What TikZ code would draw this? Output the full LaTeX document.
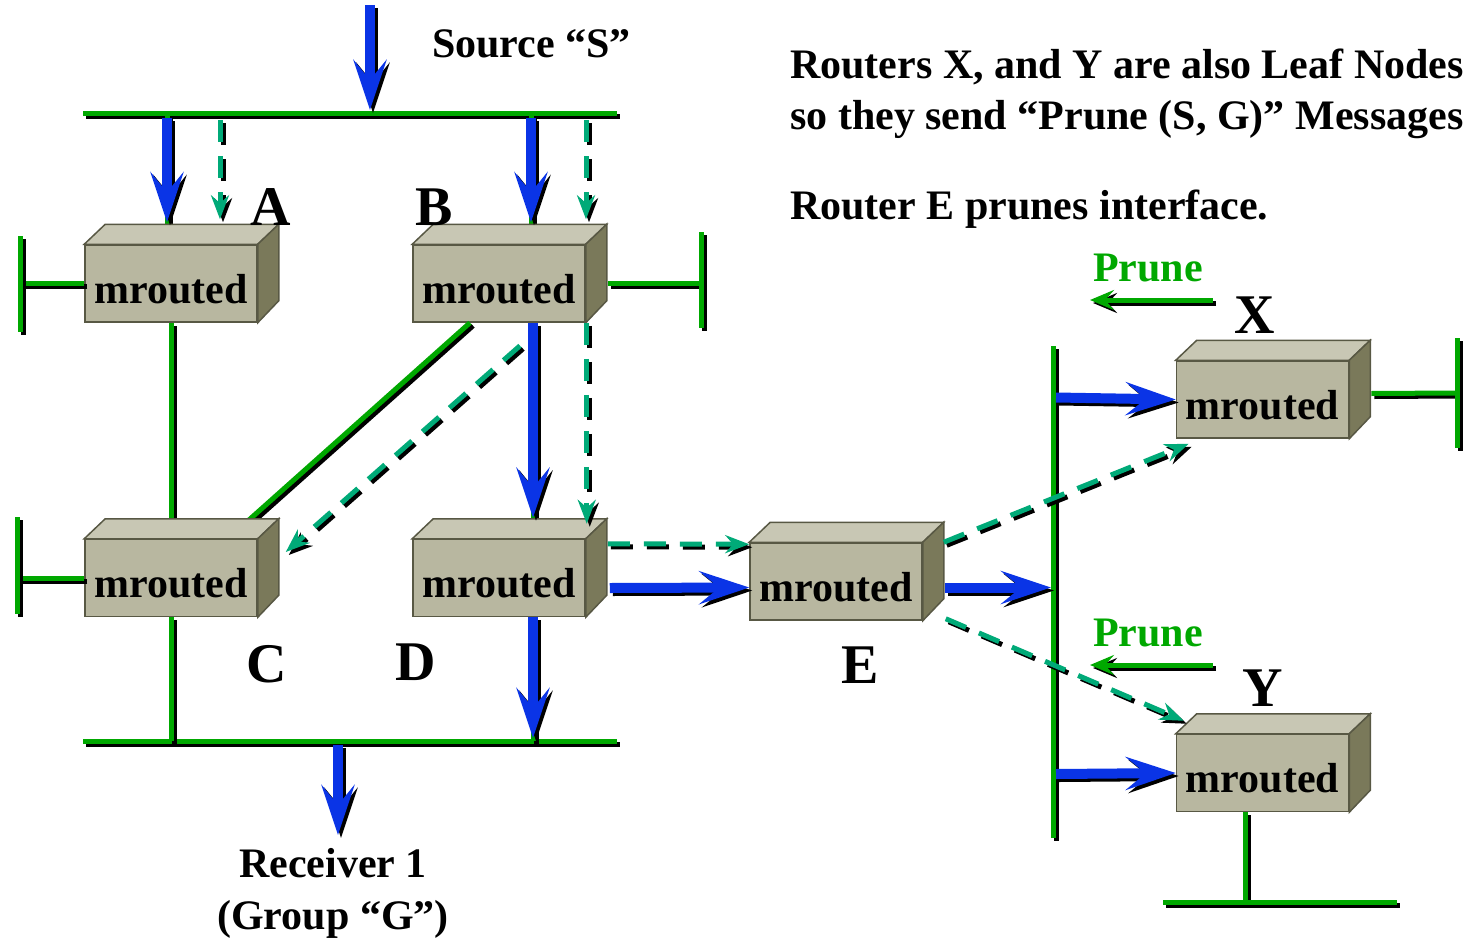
\documentclass[tikz,border=0pt]{standalone}
\usepackage{fontspec}
\setmainfont{Liberation Serif}
\usetikzlibrary{arrows.meta,calc}
\definecolor{wiregreen}{RGB}{0,168,0}
\definecolor{flowblue}{RGB}{10,52,230}
\definecolor{dashteal}{RGB}{0,170,120}
\definecolor{boxfront}{RGB}{184,183,160}
\definecolor{boxtop}{RGB}{200,199,180}
\definecolor{boxside}{RGB}{122,121,90}
\definecolor{boxedge}{RGB}{88,88,68}

\begin{document}
\begin{tikzpicture}[x=1pt,y=-1pt]
\tikzset{
  shadowed/.style = {preaction={draw=black, line width=#1, transform canvas={shift={(3pt,-3pt)}}}},
  wire/.style = {shadowed=5pt, draw=wiregreen, line width=5pt},
  flow/.style = {shadowed=10pt, draw=flowblue, line width=10pt,
                 -{Stealth[length=50pt,width=33pt,inset=20pt]}},
  prunepath/.style = {preaction={draw=black, line width=5pt, dash pattern=on 22pt off 14pt,
                 transform canvas={shift={(3pt,-3pt)}}},
                 draw=dashteal, line width=5pt, dash pattern=on 22pt off 14pt,
                 -{Stealth[length=24pt,width=18pt,inset=8pt]}},
  pruneflag/.style = {shadowed=5pt, draw=wiregreen, line width=5pt,
                 -{Stealth[length=24pt,width=20pt,inset=9pt]}},
  mbox/.style = {draw=boxedge, line width=1.5pt, fill=boxfront, minimum width=172pt,
                 minimum height=77pt, inner sep=0pt, text height=39pt, text depth=0pt,
                 font=\fontsize{42}{48}\selectfont\bfseries},
  tag/.style = {inner sep=0pt, font=\fontsize{56}{60}\selectfont\bfseries},
  note/.style = {inner sep=0pt, font=\fontsize{42}{52}\selectfont\bfseries}
}
\useasboundingbox (0,0) rectangle (1474,942);

% routers
\node[mbox] (A) at (171,283.5) {mrouted};
\node[mbox] (B) at (499,283.5) {mrouted};
\node[mbox] (C) at (171,578) {mrouted};
\node[mbox] (D) at (499,578) {mrouted};
\node[mbox] (E) at (836,581.5) {mrouted};
\node[mbox] (X) at (1262.5,399.5) {mrouted};
\node[mbox] (Y) at (1262.5,773) {mrouted};

% LANs
\coordinate (srcIn) at (370,5);
\coordinate (busTw) at (83,113);   \coordinate (busTe) at (617,113);
\coordinate (busBw) at (83,741);   \coordinate (busBe) at (617,741);
\coordinate (busRn) at (1053,346); \coordinate (busRs) at (1053,838);
\coordinate (rcvOut) at (338,835);
\coordinate (endA) at (20,287);  \coordinate (endC) at (17,568);
\coordinate (endB) at (701,282); \coordinate (endX) at (1457,393);
\coordinate (endY) at (1245,902);

\draw[wire] (busTw) -- (busTe);
\draw[wire] (busBw) -- (busBe);
\draw[wire] (busRn) -- (busRs);
\draw[wire] (A.west) -- (endA |- A.west);
\draw[wire] ($(endA)+(0,-51)$) -- ($(endA)+(0,45)$);
\draw[wire] (C.west) -- (endC |- C.west);
\draw[wire] ($(endC)+(0,-51)$) -- ($(endC)+(0,46)$);
\draw[wire] ($(B.east)+(22,0)$) -- (endB |- B.east);
\draw[wire] ($(endB)+(0,-50)$) -- ($(endB)+(0,46)$);
\draw[wire] ($(X.east)+(22,-6)$) -- (endX |- 0,393);
\draw[wire] ($(endX)+(0,-55)$) -- ($(endX)+(0,55)$);
\draw[wire] (Y.south -| endY) -- (endY);
\draw[wire] ($(endY)+(-82,0)$) -- ($(endY)+(152,0)$);
\draw[wire] (A.south) -- ($(C.north)+(0,-5)$);
\draw[wire] (C.south) -- (C.south |- busBw);
\draw[wire] ($(B.south)+(-29,0)$) -- ($(C.north)+(62.5,-5)$);
\draw[wire] ($(A.north)+(-4,-5)$) -- ($(A.north |- busTw)+(-4,0)$);
\draw[wire] ($(B.north)+(32,-5)$) -- ($(B.north |- busTw)+(32,0)$);
\draw[wire] ($(B.south)+(34,0)$) -- ($(D.north)+(34,-5)$);
\draw[wire] ($(D.south)+(34,0)$) -- ($(D.south |- busBw)+(34,0)$);

% 3D faces of the boxes
\foreach \n in {A,B,C,D,E,X,Y}{
  \filldraw[draw=boxedge, line width=1.5pt, fill=boxtop] (\n.north west) -- ++(21,-20)
      -- ($(\n.north east)+(21,-20)$) -- (\n.north east) -- cycle;
  \filldraw[draw=boxedge, line width=1.5pt, fill=boxside] (\n.north east) -- ++(21,-20)
      -- ($(\n.south east)+(21,-22)$) -- (\n.south east) -- cycle;
}

% data flow (S,G)
\draw[flow] (srcIn) -- (srcIn |- 0,110);
\draw[flow] ($(A.north |- busTw)+(-4,5)$) -- ($(A.north)+(-4,-22)$);
\draw[flow] ($(B.north |- busTw)+(32,5)$) -- ($(B.north)+(32,-22)$);
\draw[flow] ($(B.south)+(34,0)$) -- ($(D.north)+(34,-21)$);
\draw[flow] ($(D.south)+(34,0)$) -- ($(D.south |- busBw)+(34,-3)$);
\draw[flow] ($(rcvOut |- busBw)+(0,4)$) -- (rcvOut);
\draw[flow] ($(D.east)+(24,10)$) -- ($(E.west)+(0,6)$);
\draw[flow] ($(E.east)+(22,6)$) -- ($(busRn |- E.east)+(-2,6)$);
\draw[flow] ($(busRn |- X.west)+(3,-2)$) -- (X.west);
\draw[flow] ($(busRn |- Y.west)+(3,1)$) -- (Y.west);

% prune / control path
\draw[prunepath] ($(A.north |- busTw)+(49,7)$) -- ($(A.north)+(49,-25)$);
\draw[prunepath] ($(B.north |- busTw)+(87,7)$) -- ($(B.north)+(87,-25)$);
\draw[prunepath] ($(B.south)+(21,23)$) -- ($(C.east)+(28,-26)$);
\draw[prunepath] ($(B.south east)+(1,0)$) -- ($(D.north east)+(1,-15)$);
\draw[prunepath] ($(D.north east)+(22,5)$) -- ($(E.north west)+(0,2)$);
\draw[prunepath] ($(E.north east)+(21,0)$) -- ($(X.south west)+(13,5)$);
\draw[prunepath] ($(E.south east)+(23,-2)$) -- ($(Y.north west)+(8,-13)$);
\draw[pruneflag] (1213,300) coordinate (pfX) -- (1090,300);
\draw[pruneflag] (1213,665) coordinate (pfY) -- (1090,665);

% labels
\node[tag] (labA) at (271,207) {A};
\node[tag] (labB) at (434,207) {B};
\node[tag] (labC) at (267,664) {C};
\node[tag] (labD) at (416,662) {D};
\node[tag] (labE) at (860,665) {E};
\node[tag] (labX) at (1255,315) {X};
\node[tag] (labY) at (1263,688) {Y};
\node[note, anchor=base west, text=wiregreen] (prX) at (1093,281) {Prune};
\node[note, anchor=base west, text=wiregreen] (prY) at (1093,646) {Prune};
\node[note, anchor=base west] (src) at (432,58) {Source “S”};
\node[note, anchor=north, align=center] (rcv) at (333,848) {Receiver 1\\(Group “G”)};
\node[note, anchor=base west] (txt1) at (790,78) {Routers X, and Y are also Leaf Nodes};
\node[note, anchor=base west] (txt2) at (790,129) {so they send “Prune (S, G)” Messages};
\node[note, anchor=base west] (txt3) at (790,219) {Router E prunes interface.};
\end{tikzpicture}
\end{document}
